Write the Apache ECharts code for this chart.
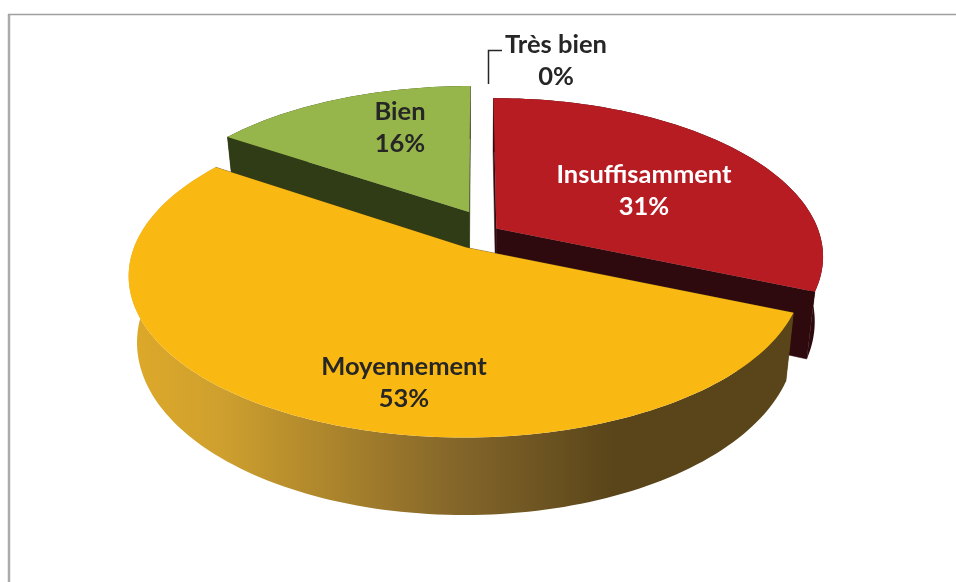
<!DOCTYPE html>
<html>
<head>
<meta charset="utf-8">
<title>Pie</title>
<style>
  html, body { margin: 0; padding: 0; background: #fff; }
  #main { width: 956px; height: 582px; }
</style>
</head>
<body>
<div id="main"></div>
<script src="https://cdn.jsdelivr.net/npm/echarts@6/dist/echarts.min.js"></script>
<script>
var categories = ['Insuffisamment', 'Moyennement', 'Bien', 'Très bien'];
var values = [31, 53, 16, 0];

// look of each slice, same order as categories
var topColors = ['#B71C23', '#FAB912', '#96B64B', '#96B64B'];
var wallColors = ['#2E0A0E', '#5A451A', '#2F3C15', '#2F3C15'];
var labelColors = ['#fff', '#262626', '#262626', '#262626'];
var sliceOrder = [2, 3, 1];
var explodeU = [0.06, -0.033, -0.025, 0];
var explodeV = [-0.01, 0.112, -0.12, 0];
var scaleU = [1, 1.012, 1.012, 1];
var scaleV = [1, 0.99, 1, 1];
var labelX = [644, 404, 400, 556];
var labelY = [191, 383, 128, 61];

// perspective of the pie plane
var cx = 477, cy = 230, radX = 322, radY = 153, persp = 0.17, depth = 63, shrink = 0.976, warp = 0.03;

function project(u, v, low) {
  var w = 1 - persp * v;
  var x = cx + radX * u / w;
  var y = cy + radY * v / w;
  if (low) {
    x = cx + (x - cx) * shrink;
    y = y + depth / w;
  }
  return [x, y];
}

function outline(i, from, to, low) {
  var pts = [];
  var n = Math.max(2, Math.ceil((to - from) * 40));
  for (var k = 0; k <= n; k++) {
    var a = from + (to - from) * k / n;
    a = a - warp * Math.sin(2 * a);
    pts.push(project(explodeU[i] + scaleU[i] * Math.sin(a), explodeV[i] - scaleV[i] * Math.cos(a), low));
  }
  return pts;
}

var total = values.reduce(function (s, v) { return s + v; }, 0);

function renderSlice(params, api) {
  var i = params.dataIndex;
  var val = api.value(0);
  var before = 0;
  for (var j = 0; j < i; j++) before += values[j];
  var from = before / total * Math.PI * 2;
  var to = (before + val) / total * Math.PI * 2;
  var children = [];
  var z = sliceOrder.indexOf(i) + 1;

  if (val > 0) {
    var apexTop = project(explodeU[i], explodeV[i], false);
    var apexLow = project(explodeU[i], explodeV[i], true);
    var arcTop = outline(i, from, to, false);
    var arcLow = outline(i, from, to, true);
    var wallFill = wallColors[i];
    var rimFill = wallFill;
    if (i === 1) {
      rimFill = new echarts.graphic.LinearGradient(140, 0, 612, 0, [
        { offset: 0, color: '#DCA82A' },
        { offset: 0.17, color: '#CFA02E' },
        { offset: 0.67, color: '#84662A' },
        { offset: 1, color: '#5A451A' }
      ], true);
    }
    var first = arcTop[0], firstLow = arcLow[0];
    var last = arcTop[arcTop.length - 1], lastLow = arcLow[arcLow.length - 1];
    children.push({ type: 'polygon', z2: z, shape: { points: [apexTop, first, firstLow, apexLow] }, style: { fill: wallFill, stroke: wallFill, lineWidth: 0.5 } });
    children.push({ type: 'polygon', z2: z, shape: { points: [apexTop, last, lastLow, apexLow] }, style: { fill: wallFill, stroke: wallFill, lineWidth: 0.5 } });
    children.push({ type: 'polygon', z2: z, shape: { points: arcTop.concat(arcLow.slice().reverse()) }, style: { fill: rimFill } });
    children.push({ type: 'polygon', z2: z, shape: { points: [apexTop].concat(arcTop) }, style: { fill: topColors[i] } });
  } else {
    // zero slice only has its leader line
    children.push({
      type: 'polyline', z2: 10,
      shape: { points: [[488.5, 84], [488.5, 50.5], [502, 50.5]] },
      style: { stroke: '#262626', lineWidth: 1.5, fill: null }
    });
  }

  children.push({
    type: 'text', z2: 10, x: labelX[i], y: labelY[i],
    style: {
      text: categories[i] + '\n' + val + '%',
      fill: labelColors[i],
      font: 'bold 25.5px Lato',
      lineHeight: 32,
      align: 'center',
      verticalAlign: 'middle'
    }
  });
  return { type: 'group', children: children };
}

var myChart = echarts.init(document.getElementById('main'), null, { renderer: 'canvas' });

var option = {
  animation: false,
  backgroundColor: '#fff',
  graphic: [
    { type: 'line', shape: { x1: 9, y1: 14, x2: 9, y2: 582 }, style: { stroke: '#ABABAB', lineWidth: 2.5 } },
    { type: 'line', shape: { x1: 8, y1: 14.5, x2: 956, y2: 14.5 }, style: { stroke: '#A0A0A0', lineWidth: 1.5 } }
  ],
  series: [
    {
      type: 'custom',
      coordinateSystem: 'none',
      renderItem: renderSlice,
      data: values.map(function (v) { return [v]; })
    }
  ]
};

myChart.setOption(option);
</script>
</body>
</html>
